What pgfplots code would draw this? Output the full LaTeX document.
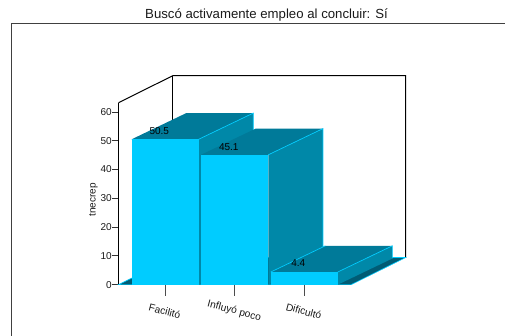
\documentclass[border=0pt]{standalone}
\usepackage{fontspec}
\setmainfont{Liberation Sans}
\usepackage{pgfplots}
\pgfplotsset{compat=1.18}
\definecolor{barfront}{HTML}{00CCFF}
\definecolor{bartop}{HTML}{007A99}
\definecolor{barside}{HTML}{0088A8}
\definecolor{barfloor}{HTML}{005C75}
\definecolor{txt}{HTML}{1A1A1A}
\begin{document}
\begin{tikzpicture}[x=1pt,y=1pt]
\path[use as bounding box] (0,0) rectangle (505,336);
\node[font=\fontsize{13.2}{14}\selectfont,text=txt,anchor=base] at (266.5,317) {Buscó activamente empleo al concluir: Sí};
\draw[line width=1pt,color=black!75] (11,0) -- (11,312.7) -- (505,312.7);
\begin{axis}[
  at={(118.5pt,51.3pt)},anchor=south west,
  scale only axis,width=232.5pt,height=182pt,
  xmin=-0.669,xmax=2.676,ymin=0,ymax=63.2,
  clip=false,
  axis x line=bottom,axis y line=left,
  axis line style={-,line width=1pt,color=black},
  xtick={0,1,2},xticklabels={Facilitó,Influyó poco,Dificultó},
  ytick={0,10,20,30,40,50,60},
  /pgf/number format/assume math mode=true,
  tick align=outside,
  x tick style={line width=0.8pt,color=black!70},
  y tick style={line width=0.8pt,color=black!80},
  xtick style={/pgfplots/major tick length=11pt},
  ytick style={/pgfplots/major tick length=6.5pt},
  xticklabel style={font=\fontsize{10.2}{11}\selectfont,text=txt,rotate=-15,anchor=center,yshift=-21.5pt,xshift=5.5pt},
  yticklabel style={font=\fontsize{10}{11}\selectfont,text=txt,xshift=1pt},
  ylabel={tnecrep},
  ylabel style={font=\fontsize{10}{11}\selectfont,text=txt,at={(axis description cs:-0.108,0.467)},anchor=center},
]
% cabinet
\addplot[black,line width=1pt] coordinates {(-0.669,63.2) (0.115,72.6) (3.463,72.6) (3.463,9.44)};
\addplot[black,line width=1pt] coordinates {(0.115,72.6) (0.115,9.44)};
% floor
\addplot[fill=barfloor,draw=barfront,line width=0.6pt] coordinates {(-0.669,0) (2.676,0) (3.463,9.44) (0.115,9.44)} --cycle;
% Facilitó 50.5
\addplot[fill=bartop,draw=none] coordinates {(-0.479,50.5) (0.485,50.5) (1.271,59.6) (0.307,59.6)} --cycle;
\addplot[fill=barside,draw=none] coordinates {(0.485,0) (1.271,9.1) (1.271,59.6) (0.485,50.5)} --cycle;
\addplot[barfront,line width=0.7pt] coordinates {(0.485,50.5) (1.271,59.6) (1.271,9.1)};
\addplot[fill=barfront,draw=none] coordinates {(-0.479,0) (0.485,0) (0.485,50.5) (-0.479,50.5)} --cycle;
% Influyó poco 45.1
\addplot[fill=bartop,draw=none] coordinates {(0.518,45.1) (1.486,45.1) (2.272,54.2) (1.304,54.2)} --cycle;
\addplot[fill=barside,draw=none] coordinates {(1.486,0) (2.272,9.1) (2.272,54.2) (1.486,45.1)} --cycle;
\addplot[barfront,line width=0.7pt] coordinates {(1.486,45.1) (2.272,54.2) (2.272,9.1)};
\addplot[fill=barfront,draw=none] coordinates {(0.518,0) (1.486,0) (1.486,45.1) (0.518,45.1)} --cycle;
% Dificultó 4.4
\addplot[fill=bartop,draw=none] coordinates {(1.521,4.4) (2.485,4.4) (3.271,13.5) (2.307,13.5)} --cycle;
\addplot[fill=barside,draw=none] coordinates {(2.485,0) (3.271,9.1) (3.271,13.5) (2.485,4.4)} --cycle;
\addplot[barfront,line width=0.7pt] coordinates {(1.521,4.4) (2.307,13.5)};
\addplot[barfront,line width=0.7pt] coordinates {(2.485,4.4) (3.271,13.5) (3.271,9.1)};
\addplot[fill=barfront,draw=none] coordinates {(1.521,0) (2.485,0) (2.485,4.4) (1.521,4.4)} --cycle;
% value labels
\node[font=\fontsize{10}{11}\selectfont,text=black] at (axis cs:-0.082,53.5) {50.5};
\node[font=\fontsize{10}{11}\selectfont,text=black] at (axis cs:0.918,47.9) {45.1};
\node[font=\fontsize{10}{11}\selectfont,text=black] at (axis cs:1.918,7.4) {4.4};
\end{axis}
\end{tikzpicture}
\end{document}
